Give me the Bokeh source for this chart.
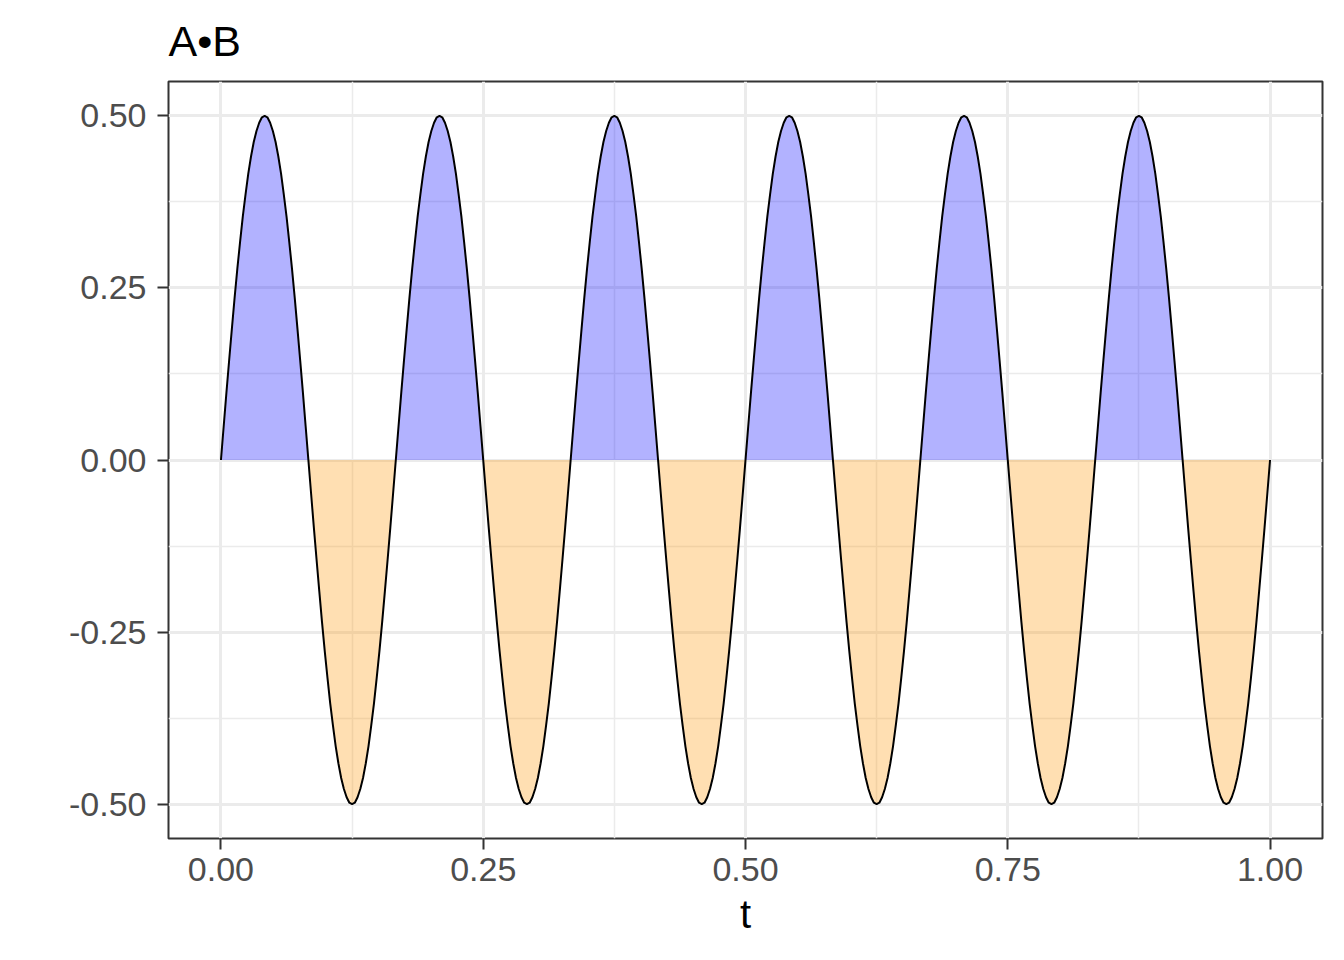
from bokeh.plotting import figure
from bokeh.models import Range1d, FixedTicker
from bokeh.embed import file_html
from bokeh.resources import INLINE

# samples of A•B, t from 0 to 1 in steps of 1/384
t = [i / 384 for i in range(385)]
ab = [
    0, 0.049, 0.098, 0.145, 0.191, 0.236, 0.278, 0.317, 0.354, 0.386, 0.416, 0.441, 0.462, 0.478, 0.490, 0.498,
    0.5, 0.498, 0.490, 0.478, 0.462, 0.441, 0.416, 0.386, 0.354, 0.317, 0.278, 0.236, 0.191, 0.145, 0.098, 0.049,
    0, -0.049, -0.098, -0.145, -0.191, -0.236, -0.278, -0.317, -0.354, -0.386, -0.416, -0.441, -0.462, -0.478, -0.490, -0.498,
    -0.5, -0.498, -0.490, -0.478, -0.462, -0.441, -0.416, -0.386, -0.354, -0.317, -0.278, -0.236, -0.191, -0.145, -0.098, -0.049,
    0, 0.049, 0.098, 0.145, 0.191, 0.236, 0.278, 0.317, 0.354, 0.386, 0.416, 0.441, 0.462, 0.478, 0.490, 0.498,
    0.5, 0.498, 0.490, 0.478, 0.462, 0.441, 0.416, 0.386, 0.354, 0.317, 0.278, 0.236, 0.191, 0.145, 0.098, 0.049,
    0, -0.049, -0.098, -0.145, -0.191, -0.236, -0.278, -0.317, -0.354, -0.386, -0.416, -0.441, -0.462, -0.478, -0.490, -0.498,
    -0.5, -0.498, -0.490, -0.478, -0.462, -0.441, -0.416, -0.386, -0.354, -0.317, -0.278, -0.236, -0.191, -0.145, -0.098, -0.049,
    0, 0.049, 0.098, 0.145, 0.191, 0.236, 0.278, 0.317, 0.354, 0.386, 0.416, 0.441, 0.462, 0.478, 0.490, 0.498,
    0.5, 0.498, 0.490, 0.478, 0.462, 0.441, 0.416, 0.386, 0.354, 0.317, 0.278, 0.236, 0.191, 0.145, 0.098, 0.049,
    0, -0.049, -0.098, -0.145, -0.191, -0.236, -0.278, -0.317, -0.354, -0.386, -0.416, -0.441, -0.462, -0.478, -0.490, -0.498,
    -0.5, -0.498, -0.490, -0.478, -0.462, -0.441, -0.416, -0.386, -0.354, -0.317, -0.278, -0.236, -0.191, -0.145, -0.098, -0.049,
    0, 0.049, 0.098, 0.145, 0.191, 0.236, 0.278, 0.317, 0.354, 0.386, 0.416, 0.441, 0.462, 0.478, 0.490, 0.498,
    0.5, 0.498, 0.490, 0.478, 0.462, 0.441, 0.416, 0.386, 0.354, 0.317, 0.278, 0.236, 0.191, 0.145, 0.098, 0.049,
    0, -0.049, -0.098, -0.145, -0.191, -0.236, -0.278, -0.317, -0.354, -0.386, -0.416, -0.441, -0.462, -0.478, -0.490, -0.498,
    -0.5, -0.498, -0.490, -0.478, -0.462, -0.441, -0.416, -0.386, -0.354, -0.317, -0.278, -0.236, -0.191, -0.145, -0.098, -0.049,
    0, 0.049, 0.098, 0.145, 0.191, 0.236, 0.278, 0.317, 0.354, 0.386, 0.416, 0.441, 0.462, 0.478, 0.490, 0.498,
    0.5, 0.498, 0.490, 0.478, 0.462, 0.441, 0.416, 0.386, 0.354, 0.317, 0.278, 0.236, 0.191, 0.145, 0.098, 0.049,
    0, -0.049, -0.098, -0.145, -0.191, -0.236, -0.278, -0.317, -0.354, -0.386, -0.416, -0.441, -0.462, -0.478, -0.490, -0.498,
    -0.5, -0.498, -0.490, -0.478, -0.462, -0.441, -0.416, -0.386, -0.354, -0.317, -0.278, -0.236, -0.191, -0.145, -0.098, -0.049,
    0, 0.049, 0.098, 0.145, 0.191, 0.236, 0.278, 0.317, 0.354, 0.386, 0.416, 0.441, 0.462, 0.478, 0.490, 0.498,
    0.5, 0.498, 0.490, 0.478, 0.462, 0.441, 0.416, 0.386, 0.354, 0.317, 0.278, 0.236, 0.191, 0.145, 0.098, 0.049,
    0, -0.049, -0.098, -0.145, -0.191, -0.236, -0.278, -0.317, -0.354, -0.386, -0.416, -0.441, -0.462, -0.478, -0.490, -0.498,
    -0.5, -0.498, -0.490, -0.478, -0.462, -0.441, -0.416, -0.386, -0.354, -0.317, -0.278, -0.236, -0.191, -0.145, -0.098, -0.049,
    0,
]

x_ticks = [0, 0.25, 0.5, 0.75, 1.0]
x_labels = ["0.00", "0.25", "0.50", "0.75", "1.00"]
x_minor = [0.125, 0.375, 0.625, 0.875]
y_ticks = [-0.5, -0.25, 0, 0.25, 0.5]
y_labels = ["-0.50", "-0.25", "0.00", "0.25", "0.50"]
y_minor = [-0.375, -0.125, 0.125, 0.375]

FONT = "Liberation Sans"

p = figure(width=1336, height=952, output_backend="svg", toolbar_location=None,
           x_range=Range1d(-0.05, 1.05), y_range=Range1d(-0.55, 0.55),
           title="A•B", x_axis_label="t",
           min_border_left=168, min_border_right=14, min_border_top=81, min_border_bottom=114)

p.title.text_font = FONT
p.title.text_font_size = "43px"
p.title.text_font_style = "normal"
p.title.text_color = "black"
p.title.vertical_align = "top"
p.title.standoff = 29

p.background_fill_color = "white"
p.border_fill_color = "white"
p.outline_line_color = "#333333"
p.outline_line_width = 2

pos = [max(v, 0) for v in ab]
neg = [min(v, 0) for v in ab]
p.varea(x=t, y1=0, y2=pos, fill_color="blue", fill_alpha=0.3)
p.varea(x=t, y1=0, y2=neg, fill_color="#ff9600", fill_alpha=0.3)
p.line(t, ab, line_color="black", line_width=2, line_join="round")

p.xaxis.ticker = FixedTicker(ticks=x_ticks, minor_ticks=x_minor)
p.yaxis.ticker = FixedTicker(ticks=y_ticks, minor_ticks=y_minor)
p.xaxis.major_label_overrides = dict(zip(x_ticks, x_labels))
p.yaxis.major_label_overrides = dict(zip(y_ticks, y_labels))

for ax in p.xaxis + p.yaxis:
    ax.axis_line_color = None
    ax.major_tick_line_color = "#333333"
    ax.major_tick_line_width = 2
    ax.major_tick_out = 11
    ax.major_tick_in = 0
    ax.minor_tick_line_color = None
    ax.major_label_text_font = FONT
    ax.major_label_text_font_size = "34px"
    ax.major_label_text_color = "#4d4d4d"
    ax.axis_label_text_font = FONT
    ax.axis_label_text_font_size = "40px"
    ax.axis_label_text_font_style = "normal"
    ax.axis_label_text_color = "black"

p.xaxis.major_label_standoff = 8
p.xaxis.axis_label_standoff = 8
p.yaxis.major_label_standoff = 11

for g in p.xgrid + p.ygrid:
    g.grid_line_color = "#ebebeb"
    g.grid_line_width = 3
    g.minor_grid_line_color = "#ebebeb"
    g.minor_grid_line_width = 1.5

open("out.html", "w").write(file_html(p, INLINE))
